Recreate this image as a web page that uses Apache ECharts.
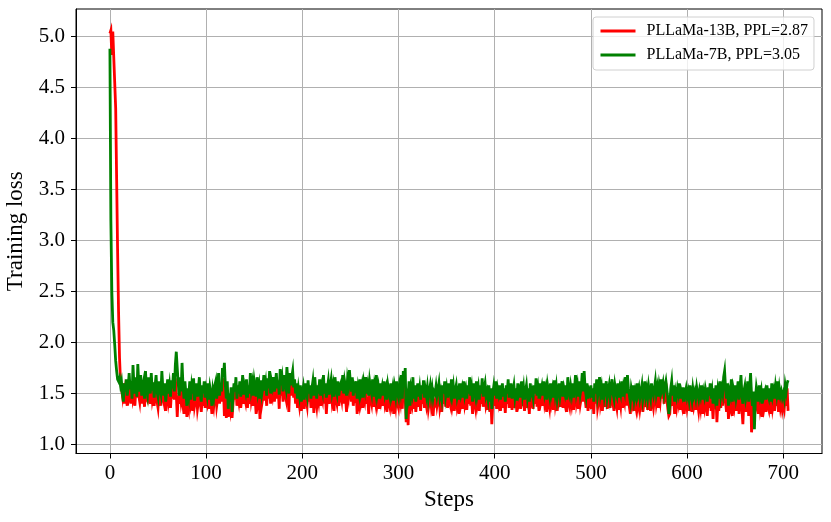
<!DOCTYPE html>
<html><head><meta charset="utf-8">
<script src="https://cdn.jsdelivr.net/npm/echarts@6/dist/echarts.min.js"></script>
<style>html,body{margin:0;padding:0;background:#fff}#c{width:831px;height:522px}</style>
</head><body><div id="c"></div>
<script>
// Training loss per step (index = step)
const loss13B = [
5.03,5.06,4.82,5.05,5.04,5.04,4.30,3.60,2.90,2.30,
1.85,1.62,1.55,1.48,1.60,1.40,1.52,1.45,1.38,1.56,
1.47,1.52,1.40,1.58,1.45,1.50,1.38,1.55,1.46,1.62,
1.48,1.42,1.55,1.40,1.50,1.46,1.37,1.58,1.45,1.43,
1.52,1.47,1.40,1.55,1.44,1.50,1.38,1.48,1.56,1.42,
1.36,1.50,1.45,1.38,1.58,1.47,1.42,1.52,1.33,1.46,
1.55,1.42,1.48,1.36,1.52,1.45,1.60,1.44,1.65,1.50,
1.27,1.48,1.40,1.55,1.43,1.50,1.38,1.30,1.52,1.45,
1.27,1.42,1.36,1.50,1.40,1.46,1.33,1.55,1.38,1.44,
1.48,1.35,1.42,1.52,1.40,1.32,1.46,1.38,1.50,1.36,
1.44,1.40,1.50,1.35,1.46,1.42,1.30,1.45,1.38,1.48,
1.52,1.38,1.45,1.60,1.40,1.55,1.42,1.65,1.56,1.28,
1.45,1.26,1.50,1.27,1.42,1.35,1.48,1.26,1.40,1.52,
1.44,1.56,1.38,1.48,1.42,1.52,1.36,1.45,1.58,1.40,
1.47,1.42,1.55,1.36,1.48,1.40,1.60,1.44,1.50,1.38,
1.52,1.45,1.30,1.56,1.42,1.48,1.25,1.54,1.40,1.46,
1.58,1.43,1.50,1.38,1.56,1.45,1.62,1.40,1.52,1.47,
1.56,1.42,1.50,1.60,1.45,1.53,1.35,1.64,1.48,1.55,
1.42,1.58,1.50,1.45,1.66,1.52,1.32,1.60,1.48,1.56,
1.62,1.46,1.54,1.40,1.50,1.36,1.45,1.38,1.48,1.33,
1.42,1.48,1.35,1.52,1.44,1.38,1.55,1.42,1.50,1.36,
1.45,1.52,1.31,1.56,1.44,1.37,1.48,1.42,1.54,1.38,
1.47,1.43,1.58,1.40,1.50,1.30,1.46,1.52,1.40,1.48,
1.54,1.42,1.48,1.33,1.56,1.45,1.40,1.52,1.38,1.47,
1.50,1.44,1.58,1.40,1.52,1.46,1.32,1.55,1.48,1.62,
1.50,1.42,1.56,1.38,1.48,1.45,1.52,1.30,1.46,1.40,
1.54,1.42,1.48,1.36,1.50,1.44,1.56,1.40,1.47,1.30,
1.52,1.45,1.40,1.54,1.37,1.48,1.42,1.58,1.40,1.46,
1.35,1.50,1.42,1.47,1.38,1.52,1.40,1.45,1.32,1.48,
1.42,1.37,1.50,1.40,1.46,1.30,1.45,1.38,1.52,1.40,
1.36,1.48,1.42,1.58,1.35,1.62,1.50,1.45,1.22,1.44,
1.19,1.52,1.30,1.45,1.40,1.56,1.35,1.48,1.32,1.42,
1.50,1.37,1.45,1.33,1.48,1.40,1.53,1.36,1.44,1.38,
1.46,1.35,1.42,1.48,1.38,1.45,1.28,1.42,1.40,1.47,
1.38,1.44,1.50,1.36,1.42,1.32,1.48,1.40,1.52,1.37,
1.45,1.36,1.50,1.42,1.38,1.54,1.40,1.47,1.33,1.43,
1.48,1.37,1.42,1.30,1.50,1.40,1.45,1.35,1.52,1.39,
1.44,1.34,1.48,1.40,1.56,1.38,1.45,1.30,1.50,1.42,
1.36,1.52,1.40,1.46,1.33,1.48,1.40,1.55,1.37,1.45,
1.50,1.38,1.42,1.34,1.48,1.32,1.45,1.20,1.40,1.47,
1.38,1.52,1.35,1.45,1.40,1.48,1.33,1.42,1.50,1.36,
1.45,1.31,1.48,1.40,1.54,1.36,1.43,1.50,1.34,1.42,
1.48,1.36,1.45,1.32,1.50,1.40,1.44,1.35,1.52,1.38,
1.46,1.33,1.42,1.48,1.36,1.45,1.30,1.50,1.40,1.43,
1.35,1.48,1.40,1.55,1.37,1.45,1.33,1.50,1.42,1.47,
1.38,1.52,1.40,1.45,1.32,1.48,1.42,1.36,1.50,1.40,
1.45,1.34,1.53,1.40,1.47,1.33,1.42,1.50,1.37,1.45,
1.52,1.36,1.45,1.40,1.48,1.32,1.56,1.42,1.37,1.47,
1.40,1.50,1.34,1.45,1.58,1.42,1.48,1.35,1.52,1.40,
1.46,1.60,1.42,1.62,1.45,1.36,1.50,1.33,1.43,1.40,
1.48,1.35,1.45,1.30,1.50,1.40,1.54,1.36,1.42,1.56,
1.40,1.46,1.33,1.50,1.37,1.45,1.52,1.35,1.42,1.48,
1.36,1.45,1.54,1.40,1.33,1.48,1.42,1.36,1.50,1.34,
1.45,1.38,1.52,1.36,1.47,1.42,1.56,1.38,1.58,1.45,
1.37,1.30,1.45,1.40,1.48,1.33,1.42,1.36,1.50,1.38,
1.45,1.35,1.42,1.48,1.32,1.40,1.52,1.37,1.44,1.34,
1.47,1.40,1.33,1.50,1.42,1.36,1.45,1.52,1.40,1.46,
1.36,1.48,1.42,1.54,1.45,1.62,1.40,1.47,1.60,1.44,
1.35,1.28,1.30,1.45,1.52,1.38,1.48,1.30,1.42,1.36,
1.45,1.40,1.50,1.34,1.42,1.37,1.46,1.30,1.40,1.45,
1.36,1.42,1.33,1.48,1.40,1.32,1.45,1.37,1.42,1.34,
1.46,1.40,1.33,1.43,1.36,1.48,1.30,1.42,1.36,1.45,
1.38,1.28,1.46,1.36,1.50,1.33,1.42,1.25,1.45,1.35,
1.48,1.22,1.40,1.33,1.52,1.36,1.45,1.38,1.56,1.60,
1.42,1.32,1.50,1.25,1.40,1.36,1.54,1.28,1.45,1.38,
1.48,1.33,1.40,1.52,1.30,1.45,1.58,1.35,1.20,1.42,
1.47,1.32,1.40,1.52,1.28,1.45,1.60,1.12,1.25,1.42,
1.30,1.36,1.46,1.38,1.30,1.48,1.36,1.43,1.27,1.45,
1.36,1.42,1.32,1.48,1.38,1.34,1.45,1.30,1.50,1.36,
1.42,1.33,1.47,1.38,1.52,1.32,1.45,1.36,1.42,1.34,
1.40,1.35,1.48,1.38,1.55,1.33
];
const loss7B = [
4.88,3.20,2.50,2.20,2.12,1.98,1.82,1.72,1.64,1.62,
1.65,1.58,1.62,1.50,1.42,1.60,1.52,1.64,1.48,1.56,
1.70,1.54,1.62,1.45,1.78,1.58,1.50,1.66,1.47,1.79,
1.60,1.52,1.68,1.48,1.57,1.62,1.45,1.72,1.55,1.49,
1.66,1.58,1.50,1.70,1.53,1.61,1.46,1.58,1.68,1.52,
1.47,1.62,1.55,1.50,1.72,1.56,1.48,1.60,1.42,1.53,
1.64,1.50,1.58,1.47,1.63,1.55,1.70,1.52,1.78,1.91,
1.75,1.60,1.48,1.66,1.52,1.80,1.58,1.45,1.62,1.50,
1.38,1.55,1.48,1.62,1.44,1.57,1.50,1.65,1.43,1.52,
1.60,1.47,1.55,1.66,1.49,1.42,1.58,1.50,1.62,1.46,
1.54,1.48,1.60,1.44,1.56,1.50,1.38,1.53,1.47,1.58,
1.62,1.45,1.55,1.70,1.48,1.60,1.52,1.75,1.66,1.80,
1.58,1.45,1.62,1.35,1.50,1.42,1.56,1.32,1.48,1.60,
1.52,1.66,1.45,1.58,1.50,1.62,1.47,1.55,1.68,1.49,
1.57,1.52,1.64,1.46,1.58,1.50,1.70,1.54,1.60,1.48,
1.62,1.55,1.47,1.66,1.52,1.58,1.45,1.63,1.50,1.56,
1.68,1.53,1.60,1.48,1.65,1.55,1.72,1.50,1.62,1.57,
1.66,1.52,1.60,1.70,1.55,1.63,1.49,1.74,1.58,1.65,
1.52,1.68,1.60,1.55,1.76,1.62,1.50,1.70,1.58,1.66,
1.72,1.56,1.64,1.50,1.60,1.45,1.55,1.48,1.58,1.42,
1.50,1.56,1.44,1.60,1.52,1.47,1.63,1.50,1.58,1.45,
1.55,1.62,1.48,1.66,1.53,1.45,1.58,1.50,1.64,1.48,
1.57,1.52,1.68,1.50,1.60,1.46,1.55,1.62,1.49,1.58,
1.64,1.52,1.58,1.47,1.66,1.55,1.50,1.62,1.48,1.57,
1.60,1.53,1.68,1.50,1.62,1.56,1.48,1.64,1.58,1.73,
1.60,1.52,1.66,1.48,1.58,1.55,1.62,1.45,1.56,1.50,
1.64,1.52,1.58,1.46,1.60,1.54,1.66,1.50,1.57,1.48,
1.62,1.55,1.50,1.64,1.47,1.58,1.52,1.68,1.50,1.56,
1.45,1.60,1.52,1.57,1.48,1.62,1.50,1.55,1.44,1.58,
1.52,1.47,1.60,1.50,1.56,1.43,1.55,1.48,1.62,1.50,
1.46,1.58,1.52,1.68,1.45,1.72,1.60,1.75,1.25,1.55,
1.48,1.62,1.38,1.55,1.50,1.66,1.45,1.58,1.42,1.52,
1.60,1.47,1.55,1.44,1.58,1.50,1.63,1.46,1.54,1.48,
1.56,1.45,1.52,1.58,1.48,1.55,1.46,1.52,1.50,1.57,
1.48,1.54,1.60,1.47,1.52,1.45,1.58,1.50,1.62,1.48,
1.55,1.46,1.60,1.52,1.48,1.64,1.50,1.57,1.45,1.53,
1.58,1.47,1.52,1.44,1.60,1.50,1.55,1.46,1.62,1.49,
1.54,1.45,1.58,1.50,1.66,1.48,1.55,1.42,1.60,1.52,
1.47,1.62,1.50,1.56,1.44,1.58,1.50,1.65,1.47,1.55,
1.60,1.48,1.52,1.45,1.58,1.42,1.55,1.35,1.50,1.57,
1.48,1.62,1.45,1.55,1.50,1.58,1.44,1.52,1.60,1.47,
1.55,1.42,1.58,1.50,1.64,1.46,1.53,1.60,1.45,1.52,
1.58,1.47,1.55,1.43,1.60,1.50,1.54,1.46,1.62,1.49,
1.56,1.44,1.52,1.58,1.47,1.55,1.42,1.60,1.50,1.53,
1.46,1.58,1.50,1.65,1.48,1.55,1.45,1.60,1.52,1.57,
1.48,1.62,1.50,1.55,1.44,1.58,1.52,1.47,1.60,1.50,
1.55,1.46,1.63,1.50,1.57,1.45,1.52,1.60,1.48,1.55,
1.62,1.47,1.55,1.50,1.58,1.44,1.66,1.52,1.48,1.57,
1.50,1.60,1.46,1.55,1.68,1.52,1.58,1.47,1.62,1.50,
1.56,1.70,1.52,1.72,1.55,1.48,1.60,1.45,1.53,1.50,
1.58,1.46,1.55,1.42,1.60,1.50,1.64,1.47,1.53,1.66,
1.50,1.56,1.44,1.60,1.48,1.55,1.62,1.46,1.52,1.58,
1.47,1.55,1.64,1.50,1.45,1.58,1.52,1.48,1.60,1.46,
1.55,1.50,1.62,1.47,1.57,1.52,1.66,1.50,1.68,1.55,
1.48,1.42,1.55,1.50,1.58,1.45,1.52,1.47,1.60,1.50,
1.55,1.46,1.52,1.58,1.44,1.50,1.62,1.48,1.54,1.46,
1.57,1.50,1.45,1.60,1.52,1.48,1.55,1.62,1.50,1.56,
1.47,1.58,1.52,1.64,1.55,1.60,1.50,1.57,1.62,1.54,
1.45,1.30,1.38,1.55,1.62,1.48,1.58,1.42,1.52,1.47,
1.55,1.50,1.60,1.45,1.52,1.48,1.56,1.42,1.50,1.55,
1.47,1.52,1.45,1.58,1.50,1.44,1.55,1.48,1.52,1.46,
1.56,1.50,1.45,1.53,1.48,1.58,1.44,1.52,1.47,1.55,
1.50,1.42,1.56,1.48,1.60,1.45,1.52,1.40,1.55,1.47,
1.58,1.38,1.52,1.45,1.62,1.48,1.55,1.50,1.66,1.72,
1.55,1.45,1.60,1.38,1.52,1.48,1.64,1.42,1.55,1.50,
1.58,1.46,1.52,1.62,1.44,1.55,1.68,1.48,1.40,1.52,
1.57,1.45,1.50,1.62,1.42,1.55,1.70,1.48,1.38,1.52,
1.15,1.45,1.56,1.50,1.42,1.58,1.48,1.53,1.40,1.55,
1.48,1.52,1.44,1.58,1.50,1.46,1.55,1.42,1.60,1.48,
1.53,1.45,1.57,1.50,1.62,1.44,1.55,1.48,1.52,1.46,
1.50,1.45,1.58,1.52,1.60,1.63
];
const seriesNames = ['PLLaMa-13B, PPL=2.87', 'PLLaMa-7B, PPL=3.05'];
const seriesColors = ['#ff0000', '#008000'];
const xTicks = [0, 100, 200, 300, 400, 500, 600, 700];
const yTicks = [1.0, 1.5, 2.0, 2.5, 3.0, 3.5, 4.0, 4.5, 5.0];
const xLabel = 'Steps';
const yLabel = 'Training loss';

const FONT = 'Liberation Serif';
const toPairs = arr => arr.map((v, i) => [i, v]);
const lastStep = loss13B.length - 1;
const xPad = lastStep * 0.05;

const chart = echarts.init(document.getElementById('c'), null, {renderer: 'canvas'});
chart.setOption({
  animation: false,
  backgroundColor: '#fff',
  grid: {left: 76, right: 9, top: 9, bottom: 68.5, containLabel: false, outerBoundsMode: 'none',
    show: true, borderColor: '#000', borderWidth: 1, backgroundColor: 'transparent'},
  legend: {
    orient: 'vertical', left: 593, top: 17,
    padding: [6, 6, 7, 6], itemGap: 8, itemWidth: 35, itemHeight: 14,
    backgroundColor: 'rgba(255,255,255,0.8)', borderColor: '#d0d0d0', borderWidth: 1, borderRadius: 3,
    itemStyle: {color: 'rgba(0,0,0,0)', borderWidth: 0, opacity: 0},
    lineStyle: {width: 3},
    textStyle: {fontFamily: FONT, fontSize: 16, color: '#000', padding: [0, 0, 0, 6]},
    data: seriesNames
  },
  xAxis: {
    type: 'value', min: -xPad, max: lastStep + xPad,
    name: xLabel, nameLocation: 'middle', nameGap: 34,
    nameTextStyle: {fontFamily: FONT, fontSize: 23, color: '#000'},
    axisLine: {show: true, onZero: false, lineStyle: {color: '#000', width: 1}},
    axisTick: {show: true, length: 5, lineStyle: {color: '#000'}, customValues: xTicks},
    axisLabel: {fontFamily: FONT, fontSize: 21, color: '#000', margin: 9, customValues: xTicks},
    splitLine: {show: true, lineStyle: {color: '#b0b0b0', width: 1}}
  },
  yAxis: {
    type: 'value', min: 0.912, max: 5.27,
    name: yLabel, nameLocation: 'middle', nameGap: 39,
    nameTextStyle: {fontFamily: FONT, fontSize: 23, color: '#000'},
    axisLine: {show: true, onZero: false, lineStyle: {color: '#000', width: 1}},
    axisTick: {show: true, length: 5, lineStyle: {color: '#000'}, customValues: yTicks},
    axisLabel: {fontFamily: FONT, fontSize: 21, color: '#000', margin: 11, customValues: yTicks,
      formatter: v => v.toFixed(1)},
    splitLine: {show: true, lineStyle: {color: '#b0b0b0', width: 1}}
  },
  series: [
    {name: seriesNames[0], type: 'line', data: toPairs(loss13B), symbol: 'none', color: seriesColors[0],
      lineStyle: {width: 2.8, color: seriesColors[0], join: 'miter'}, z: 2},
    {name: seriesNames[1], type: 'line', data: toPairs(loss7B), symbol: 'none', color: seriesColors[1],
      lineStyle: {width: 2.8, color: seriesColors[1], join: 'miter'}, z: 3}
  ]
});
</script></body></html>
